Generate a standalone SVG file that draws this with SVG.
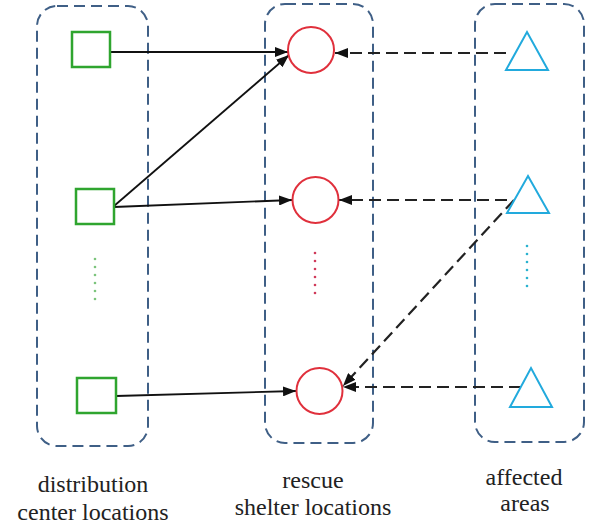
<svg xmlns="http://www.w3.org/2000/svg" width="592" height="528" viewBox="0 0 592 528">
<style>
.box{fill:none;stroke:#3f5f86;stroke-width:2;stroke-dasharray:11 6}
.sq{fill:#fff;stroke:#2fa52f;stroke-width:2.5}
.ci{fill:#fff;stroke:#e0303c;stroke-width:2}
.tr{fill:#fff;stroke:#22aadd;stroke-width:2;stroke-linejoin:miter}
.solid{fill:none;stroke:#111;stroke-width:1.8;marker-end:url(#ah)}
.dash{fill:none;stroke:#222;stroke-width:2.2;stroke-dasharray:12 6;marker-end:url(#ah)}
.lbl{font-size:24px;fill:#222;text-anchor:middle}
</style>
<defs>
<marker id="ah" markerUnits="userSpaceOnUse" markerWidth="13" markerHeight="10" refX="13" refY="5" orient="auto">
<path d="M0,0 L13,5 L0,10 z" fill="#111"/>
</marker>
</defs>
<g id="containers">
<rect class="box" x="37" y="6" width="111" height="440" rx="20"/>
<rect class="box" x="265" y="4" width="108" height="439" rx="20"/>
<rect class="box" x="475" y="4" width="109" height="438" rx="20"/>
</g>
<g id="connectors">
<line class="solid" x1="111" y1="52" x2="288" y2="52"/>
<line class="solid" x1="114" y1="206" x2="289" y2="55"/>
<line class="solid" x1="114" y1="207" x2="292" y2="200"/>
<line class="solid" x1="116" y1="396" x2="296" y2="391"/>
<line class="dash" x1="506" y1="53" x2="335" y2="53"/>
<line class="dash" x1="507" y1="200" x2="339" y2="200"/>
<line class="dash" x1="514" y1="200" x2="343" y2="386"/>
<line class="dash" x1="521" y1="387" x2="343" y2="387"/>
</g>
<g id="dc1"><rect class="sq" x="72" y="32" width="38" height="35"/></g>
<g id="dc2"><rect class="sq" x="76" y="189" width="38" height="35"/></g>
<g id="dc3"><rect class="sq" x="77" y="378" width="39" height="35"/></g>
<g id="rs1"><circle class="ci" cx="311" cy="50" r="23"/></g>
<g id="rs2"><circle class="ci" cx="315.5" cy="200" r="23"/></g>
<g id="rs3"><circle class="ci" cx="319.5" cy="391" r="23"/></g>
<g id="aa1"><polygon class="tr" points="506,70 548,70 527,32"/></g>
<g id="aa2"><polygon class="tr" points="507,213 549,213 528,176"/></g>
<g id="aa3"><polygon class="tr" points="510,407 552,407 531,368"/></g>
<g id="dots">
<g fill="#7cc47c">
<circle cx="95" cy="259" r="1.3"/><circle cx="95" cy="267" r="1.3"/><circle cx="95" cy="275" r="1.3"/><circle cx="95" cy="283" r="1.3"/><circle cx="95" cy="291" r="1.3"/><circle cx="95" cy="299" r="1.3"/>
</g>
<g fill="#d03a5a">
<circle cx="315" cy="253" r="1.3"/><circle cx="315" cy="261" r="1.3"/><circle cx="315" cy="269" r="1.3"/><circle cx="315" cy="277" r="1.3"/><circle cx="315" cy="285" r="1.3"/><circle cx="315" cy="293" r="1.3"/>
</g>
<g fill="#2ab2cf">
<circle cx="527" cy="246" r="1.3"/><circle cx="527" cy="254" r="1.3"/><circle cx="527" cy="262" r="1.3"/><circle cx="527" cy="270" r="1.3"/><circle cx="527" cy="278" r="1.3"/><circle cx="527" cy="286" r="1.3"/>
</g>
</g>
<g id="labels" font-family="'Liberation Serif', Tinos, 'Times New Roman', 'DejaVu Serif', serif">
<text class="lbl" x="93" y="492">distribution</text>
<text class="lbl" x="93" y="520">center locations</text>
<text class="lbl" x="313" y="488">rescue</text>
<text class="lbl" x="313" y="515">shelter locations</text>
<text class="lbl" x="524" y="485">affected</text>
<text class="lbl" x="525" y="511">areas</text>
</g>
</svg>
